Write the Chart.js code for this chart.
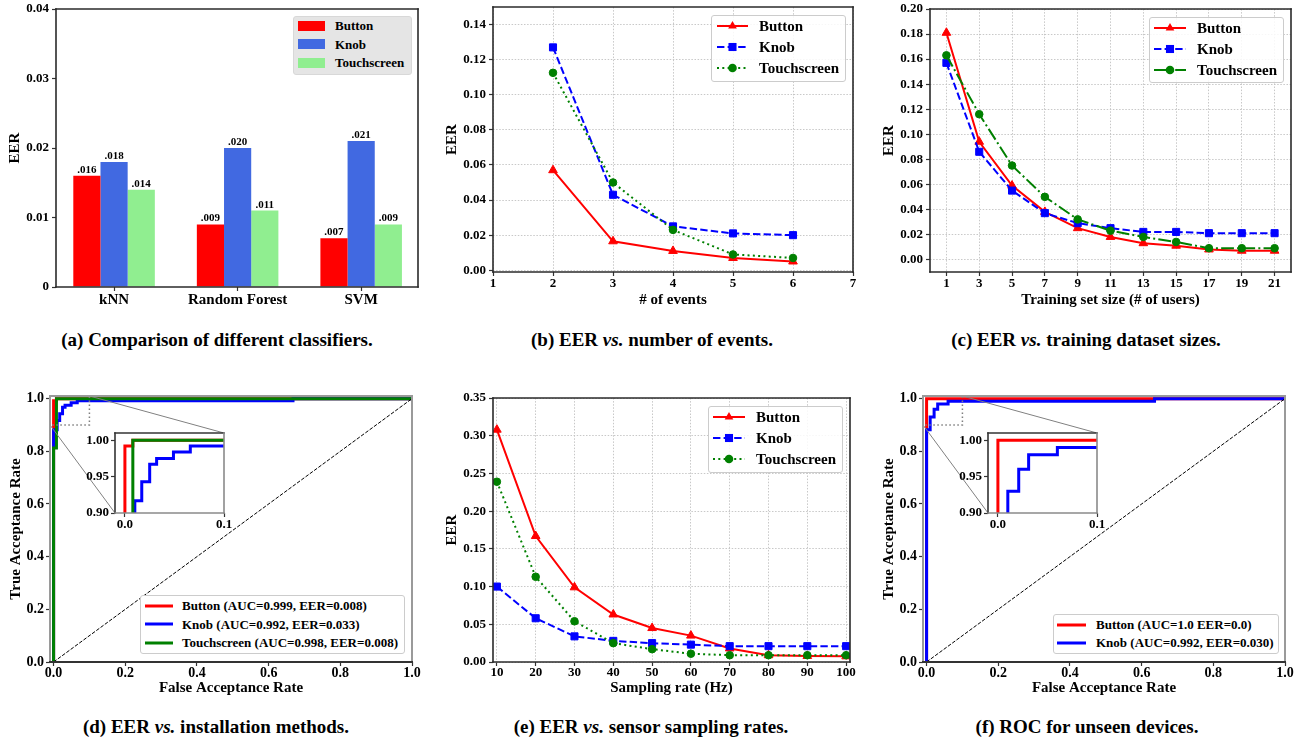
<!DOCTYPE html>
<html>
<head>
<meta charset="utf-8">
<script src="https://cdn.jsdelivr.net/npm/chart.js@4.4.1/dist/chart.umd.min.js"></script>
<style>
html,body{margin:0;padding:0;background:#ffffff;}
body{position:relative;width:1302px;height:744px;overflow:hidden;font-family:'Liberation Serif','Times New Roman',serif;}
canvas{position:absolute;}
.cap{position:absolute;font-weight:bold;font-size:19px;line-height:23px;white-space:nowrap;transform:translate(-50%,-50%);color:#000;}
.leg{position:absolute;box-sizing:border-box;z-index:5;}
.lt{position:absolute;font-weight:bold;white-space:nowrap;color:#000;z-index:6;}
</style>
</head>
<body>
<div class="cap" style="left:217px;top:339px">(a) Comparison of different classifiers.</div>
<div class="cap" style="left:652px;top:339px">(b) EER <i>vs.</i> number of events.</div>
<div class="cap" style="left:1086px;top:339px">(c) EER <i>vs.</i> training dataset sizes.</div>
<div class="cap" style="left:216px;top:726px">(d) EER <i>vs.</i> installation methods.</div>
<div class="cap" style="left:651px;top:726px">(e) EER <i>vs.</i> sensor sampling rates.</div>
<div class="cap" style="left:1087px;top:726px">(f) ROC for unseen devices.</div>
<script>
// ================= DATA =================
const seriesNames = ['Button', 'Knob', 'Touchscreen'];

// (a) classifiers
const classifierNames = ['kNN', 'Random Forest', 'SVM'];
const classifierPos = [0, 1, 2];
const classifierButton = [0.016, 0.009, 0.007];
const classifierKnob = [0.018, 0.020, 0.021];
const classifierTouch = [0.014, 0.011, 0.009];
const classifierYTicks = [0, 0.01, 0.02, 0.03, 0.04];
const classifierYLabels = ['0', '0.01', '0.02', '0.03', '0.04'];

// (b) number of events
const eventsX = [2, 3, 4, 5, 6];
const eventsButton = [0.057, 0.0165, 0.011, 0.007, 0.005];
const eventsKnob = [0.127, 0.043, 0.025, 0.021, 0.020];
const eventsTouch = [0.1125, 0.050, 0.023, 0.009, 0.007];
const eventsXTicks = [1, 2, 3, 4, 5, 6, 7];
const eventsXLabels = ['1', '2', '3', '4', '5', '6', '7'];
const eventsYTicks = [0, 0.02, 0.04, 0.06, 0.08, 0.10, 0.12, 0.14];
const eventsYLabels = ['0.00', '0.02', '0.04', '0.06', '0.08', '0.10', '0.12', '0.14'];

// (c) training set size
const usersX = [1, 3, 5, 7, 9, 11, 13, 15, 17, 19, 21];
const usersButton = [0.181, 0.094, 0.059, 0.038, 0.025, 0.018, 0.013, 0.011, 0.008, 0.007, 0.007];
const usersKnob = [0.157, 0.086, 0.055, 0.037, 0.029, 0.025, 0.022, 0.022, 0.021, 0.021, 0.021];
const usersTouch = [0.163, 0.116, 0.075, 0.050, 0.032, 0.023, 0.018, 0.014, 0.009, 0.009, 0.009];
const usersXLabels = ['1', '3', '5', '7', '9', '11', '13', '15', '17', '19', '21'];
const usersYTicks = [0, 0.02, 0.04, 0.06, 0.08, 0.10, 0.12, 0.14, 0.16, 0.18, 0.20];
const usersYLabels = ['0.00', '0.02', '0.04', '0.06', '0.08', '0.10', '0.12', '0.14', '0.16', '0.18', '0.20'];

// (e) sampling rate
const rateX = [10, 20, 30, 40, 50, 60, 70, 80, 90, 100];
const rateButton = [0.308, 0.167, 0.099, 0.063, 0.045, 0.035, 0.018, 0.009, 0.008, 0.0075];
const rateKnob = [0.100, 0.058, 0.034, 0.028, 0.025, 0.023, 0.021, 0.021, 0.021, 0.021];
const rateTouch = [0.239, 0.113, 0.054, 0.025, 0.017, 0.011, 0.009, 0.009, 0.009, 0.009];
const rateXLabels = ['10', '20', '30', '40', '50', '60', '70', '80', '90', '100'];
const rateYTicks = [0, 0.05, 0.10, 0.15, 0.20, 0.25, 0.30, 0.35];
const rateYLabels = ['0.00', '0.05', '0.10', '0.15', '0.20', '0.25', '0.30', '0.35'];

// (d) ROC installation methods
const installButtonFar = [0, 0, 0.008, 0.008, 1];
const installButtonTar = [0, 0.992, 0.992, 1, 1];
const installKnobFar = [0, 0, 0.010, 0.010, 0.017, 0.017, 0.025, 0.025, 0.032, 0.032, 0.049, 0.049, 0.066, 0.066, 0.668, 0.668, 1];
const installKnobTar = [0, 0.882, 0.882, 0.917, 0.917, 0.943, 0.943, 0.967, 0.967, 0.975, 0.975, 0.984, 0.984, 0.992, 0.992, 1, 1];
const installTouchFar = [0, 0, 0.008, 0.008, 1];
const installTouchTar = [0, 0.813, 0.813, 1, 1];
const installLegend = ['Button (AUC=0.999, EER=0.008)', 'Knob (AUC=0.992, EER=0.033)', 'Touchscreen (AUC=0.998, EER=0.008)'];

// (f) ROC unseen devices
const unseenButtonFar = [0, 0, 1];
const unseenButtonTar = [0, 1, 1];
const unseenKnobFar = [0, 0, 0.010, 0.010, 0.021, 0.021, 0.031, 0.031, 0.060, 0.060, 0.636, 0.636, 1];
const unseenKnobTar = [0, 0.882, 0.882, 0.93, 0.93, 0.96, 0.96, 0.98, 0.98, 0.99, 0.99, 1, 1];
const unseenLegend = ['Button (AUC=1.0 EER=0.0)', 'Knob (AUC=0.992, EER=0.030)'];

const chanceFar = [0, 1];
const chanceTar = [0, 1];
const rocTicks = [0, 0.2, 0.4, 0.6, 0.8, 1.0];
const rocLabels = ['0.0', '0.2', '0.4', '0.6', '0.8', '1.0'];
const zoomXTicks = [0, 0.1];
const zoomXLabels = ['0.0', '0.1'];
const zoomYTicks = [0.90, 0.95, 1.00];
const zoomYLabels = ['0.90', '0.95', '1.00'];
const zoomXRange = [-0.01, 0.1];
const zoomYRange = [0.9, 1.01];

// ================= LAYOUT / STYLE =================
const SERIF = "'Liberation Serif','Times New Roman',Times,serif";
Chart.defaults.font.family = SERIF;
Chart.defaults.font.weight = 'bold';
Chart.defaults.color = '#000';

const RED = '#ff0000', BLUE = '#0000ff', GREEN = '#008000';
const DASH = [7.4, 3.2], DOT = [2, 3.3], DASHDOT = [12.8, 3.2, 2, 3.2];

const BOX = {
  a: {x: 0, y: 0, w: 434, h: 330}, b: {x: 434, y: 0, w: 434, h: 330}, c: {x: 868, y: 0, w: 434, h: 330},
  d: {x: 0, y: 380, w: 434, h: 320}, e: {x: 434, y: 380, w: 434, h: 320}, f: {x: 868, y: 380, w: 434, h: 320},
  di: {x: 62, y: 420, w: 180, h: 122}, fi: {x: 935, y: 420, w: 180, h: 122}
};
const PLOT = {
  a: {l: 56, r: 418, t: 9, b: 287}, b: {l: 493, r: 853, t: 7, b: 272}, c: {l: 930, r: 1291, t: 9, b: 272},
  d: {l: 50, r: 412, t: 396, b: 662}, e: {l: 493, r: 850, t: 398, b: 662}, f: {l: 923, r: 1285, t: 396, b: 662},
  di: {l: 115, r: 224, t: 433, b: 513}, fi: {l: 988, r: 1097, t: 433, b: 513}
};

function fnt(size, style) { return {family: SERIF, size: size, weight: 'bold', style: style || 'normal', lineHeight: 1.2}; }

function addCanvas(box, z) {
  const c = document.createElement('canvas');
  c.width = box.w; c.height = box.h;
  c.style.left = box.x + 'px'; c.style.top = box.y + 'px';
  c.style.width = box.w + 'px'; c.style.height = box.h + 'px';
  c.style.zIndex = z || 1;
  document.body.appendChild(c);
  return c;
}

function linAxis(o) {
  const horiz = o.pos === 'bottom';
  return {
    type: 'linear', position: o.pos, min: o.min, max: o.max, offset: false,
    afterBuildTicks: s => { s.ticks = o.ticks.map(v => ({value: v})); },
    afterFit: s => {
      if (horiz) s.height = o.size; else s.width = o.size;
      s.paddingLeft = 0; s.paddingRight = 0; s.paddingTop = 0; s.paddingBottom = 0;
    },
    ticks: {autoSkip: false, maxRotation: 0, minRotation: 0, padding: o.tickPad, color: '#000',
      font: fnt(o.tickSize), callback: (v, i) => o.labels[i]},
    grid: {display: true, drawOnChartArea: !!o.grid, drawTicks: true, tickLength: o.tickLen || 4, tickWidth: 1.2,
      tickColor: '#333', color: '#c2c2c2', lineWidth: 0.9, offset: false},
    border: {display: false, dash: o.grid ? [1.5, 1.6] : []},
    title: {display: !!o.title, text: o.title, color: '#000', font: fnt(o.titleSize || 15),
      padding: horiz ? {top: 0, bottom: o.titlePad || 0} : {top: o.titlePad || 0, bottom: 0}}
  };
}

const framePlugin = {
  id: 'frame',
  beforeDraw(chart, args, o) {
    if (!o || !o.fill) return;
    const a = chart.chartArea, g = chart.ctx;
    g.save(); g.fillStyle = o.fill; g.fillRect(a.left, a.top, a.right - a.left, a.bottom - a.top); g.restore();
  },
  afterDatasetsDraw(chart, args, o) {
    if (!o || !o.width) return;
    const a = chart.chartArea, g = chart.ctx;
    g.save(); g.lineWidth = o.width; g.setLineDash([]); g.lineCap = 'square';
    const seg = (x1, y1, x2, y2, c) => { g.strokeStyle = c; g.beginPath(); g.moveTo(x1, y1); g.lineTo(x2, y2); g.stroke(); };
    seg(a.left, a.top, a.right, a.top, o.top);
    seg(a.right, a.top, a.right, a.bottom, o.right);
    seg(a.left, a.top, a.left, a.bottom, o.left);
    seg(a.left, a.bottom, a.right, a.bottom, o.bottom);
    g.restore();
  }
};

const barLabelPlugin = {
  id: 'barLabels',
  afterDatasetsDraw(chart) {
    const g = chart.ctx;
    g.save(); g.font = 'bold 11px ' + SERIF; g.textAlign = 'center'; g.textBaseline = 'alphabetic'; g.fillStyle = '#000';
    chart.data.datasets.forEach((ds, di) => {
      chart.getDatasetMeta(di).data.forEach((bar, i) => {
        g.fillText(ds.data[i].y.toFixed(3).slice(1), bar.x, bar.y - 3);
      });
    });
    g.restore();
  }
};

const insetMarkPlugin = {
  id: 'insetMark',
  afterDatasetsDraw(chart, args, o) {
    if (!o || !o.inset) return;
    const xs = chart.scales.x, ys = chart.scales.y, g = chart.ctx;
    const x0 = xs.getPixelForValue(zoomXRange[0]), x1 = xs.getPixelForValue(zoomXRange[1]);
    const y0 = ys.getPixelForValue(zoomYRange[0]), y1 = ys.getPixelForValue(zoomYRange[1]);
    g.save();
    g.strokeStyle = '#7f7f7f'; g.lineWidth = 1.5; g.setLineDash([1.5, 2.5]);
    g.strokeRect(x0, y1, x1 - x0, y0 - y1);
    g.setLineDash([]); g.lineWidth = 1; g.strokeStyle = '#808080';
    const ins = o.inset;
    g.beginPath(); g.moveTo(x1, y1); g.lineTo(ins.r, ins.t); g.stroke();
    g.beginPath(); g.moveTo(x0, y0); g.lineTo(ins.l, ins.b); g.stroke();
    g.restore();
  }
};

function pts(xs, ys) { return xs.map((x, i) => ({x: x, y: ys[i]})); }

function lineDS(xs, ys, color, dash, marker, r, lw) {
  return {data: pts(xs, ys), borderColor: color, backgroundColor: color, borderWidth: lw, borderDash: dash || [],
    tension: 0, fill: false, pointStyle: marker || 'circle', pointRadius: marker ? r : 0, pointHoverRadius: 0,
    pointBackgroundColor: color, pointBorderColor: color, pointBorderWidth: 1};
}

function build(key, cfg) {
  const box = BOX[key], plot = PLOT[key];
  const c = addCanvas(box, cfg.z || 1);
  const xo = Object.assign({pos: 'bottom', size: box.y + box.h - plot.b}, cfg.x);
  const yo = Object.assign({pos: 'left', size: plot.l - box.x}, cfg.y);
  const plugins = Object.assign({legend: {display: false}, tooltip: {enabled: false}, title: {display: false}}, cfg.pluginOpts || {});
  return new Chart(c, {
    type: cfg.type || 'line',
    data: {datasets: cfg.datasets},
    options: {
      responsive: false, animation: false, events: [],
      layout: {padding: {left: 0, bottom: 0, top: plot.t - box.y, right: box.x + box.w - plot.r}},
      plugins: plugins,
      scales: {x: linAxis(xo), y: linAxis(yo)}
    },
    plugins: cfg.plugins || []
  });
}

const darkFrame = {width: 1.6, top: '#2a2a2a', right: '#2a2a2a', left: '#2a2a2a', bottom: '#2a2a2a'};
const rocFrame = {width: 2, top: '#9a9a9a', right: '#9a9a9a', left: '#9a9a9a', bottom: '#333333'};
const insetFrame = {width: 1.6, top: '#333', right: '#8a8a8a', left: '#333', bottom: '#8a8a8a', fill: '#ffffff'};

// (a)
build('a', {
  type: 'bar',
  datasets: [
    {data: pts(classifierPos, classifierButton), backgroundColor: '#ff0000', borderWidth: 0, categoryPercentage: 0.66, barPercentage: 1.0},
    {data: pts(classifierPos, classifierKnob), backgroundColor: '#4169e1', borderWidth: 0, categoryPercentage: 0.66, barPercentage: 1.0},
    {data: pts(classifierPos, classifierTouch), backgroundColor: '#90ee90', borderWidth: 0, categoryPercentage: 0.66, barPercentage: 1.0}
  ],
  x: {min: -0.47, max: 2.46, ticks: classifierPos, labels: classifierNames, tickSize: 15, tickPad: 0},
  y: {min: 0, max: 0.04, ticks: classifierYTicks, labels: classifierYLabels, tickSize: 13, tickPad: 3, title: 'EER', titlePad: 6},
  pluginOpts: {frame: darkFrame},
  plugins: [barLabelPlugin, framePlugin]
});

// (b)
build('b', {
  datasets: [
    lineDS(eventsX, eventsTouch, GREEN, DOT, 'circle', 3.8, 2),
    lineDS(eventsX, eventsKnob, BLUE, DASH, 'rect', 5, 2),
    lineDS(eventsX, eventsButton, RED, [], 'triangle', 5, 2)
  ],
  x: {min: 1, max: 7, ticks: eventsXTicks, labels: eventsXLabels, tickSize: 13, tickPad: 0, grid: true, title: '# of events', titlePad: 21},
  y: {min: -0.001, max: 0.15, ticks: eventsYTicks, labels: eventsYLabels, tickSize: 13, tickPad: 3, grid: true, title: 'EER', titlePad: 9},
  pluginOpts: {frame: darkFrame},
  plugins: [framePlugin]
});

// (c)
build('c', {
  datasets: [
    lineDS(usersX, usersTouch, GREEN, DASHDOT, 'circle', 3.8, 2),
    lineDS(usersX, usersKnob, BLUE, DASH, 'rect', 5, 2),
    lineDS(usersX, usersButton, RED, [], 'triangle', 5, 2)
  ],
  x: {min: 0, max: 22, ticks: usersX, labels: usersXLabels, tickSize: 13, tickPad: 0, grid: true, title: 'Training set size (# of users)', titlePad: 21},
  y: {min: -0.01, max: 0.20, ticks: usersYTicks, labels: usersYLabels, tickSize: 13, tickPad: 3, grid: true, title: 'EER', titlePad: 11.7},
  pluginOpts: {frame: darkFrame},
  plugins: [framePlugin]
});

// (e)
build('e', {
  datasets: [
    lineDS(rateX, rateTouch, GREEN, DOT, 'circle', 3.8, 2),
    lineDS(rateX, rateKnob, BLUE, DASH, 'rect', 5, 2),
    lineDS(rateX, rateButton, RED, [], 'triangle', 5, 2)
  ],
  x: {min: 9, max: 101, ticks: rateX, labels: rateXLabels, tickSize: 13, tickPad: -1, grid: true, title: 'Sampling rate (Hz)', titlePad: 3},
  y: {min: 0, max: 0.35, ticks: rateYTicks, labels: rateYLabels, tickSize: 13, tickPad: 3, grid: true, title: 'EER', titlePad: 9},
  pluginOpts: {frame: darkFrame},
  plugins: [framePlugin]
});

function rel(key, host) {
  const p = PLOT[key], b = BOX[host];
  return {l: p.l - b.x, r: p.r - b.x, t: p.t - b.y, b: p.b - b.y};
}

// (d)
build('d', {
  datasets: [
    lineDS(chanceFar, chanceTar, '#000', [3.7, 1.6], null, 0, 1),
    lineDS(installTouchFar, installTouchTar, GREEN, [], null, 0, 3),
    lineDS(installKnobFar, installKnobTar, BLUE, [], null, 0, 3),
    lineDS(installButtonFar, installButtonTar, RED, [], null, 0, 3)
  ],
  x: {min: -0.01, max: 1.0, ticks: rocTicks, labels: rocLabels, tickSize: 14, tickPad: -1, tickLen: 4, title: 'False Acceptance Rate', titlePad: 3},
  y: {min: 0, max: 1.01, ticks: rocTicks, labels: rocLabels, tickSize: 14, tickPad: 2, tickLen: 4, title: 'True Acceptance Rate', titlePad: 7},
  pluginOpts: {frame: rocFrame, insetMark: {inset: rel('di', 'd')}},
  plugins: [insetMarkPlugin, framePlugin]
});
build('di', {
  z: 2,
  datasets: [
    lineDS(installTouchFar, installTouchTar, GREEN, [], null, 0, 3),
    lineDS(installKnobFar, installKnobTar, BLUE, [], null, 0, 3),
    lineDS(installButtonFar, installButtonTar, RED, [], null, 0, 3)
  ],
  x: {min: zoomXRange[0], max: zoomXRange[1], ticks: zoomXTicks, labels: zoomXLabels, tickSize: 13, tickPad: 0},
  y: {min: zoomYRange[0], max: zoomYRange[1], ticks: zoomYTicks, labels: zoomYLabels, tickSize: 13, tickPad: 2},
  pluginOpts: {frame: insetFrame},
  plugins: [framePlugin]
});

// (f)
build('f', {
  datasets: [
    lineDS(chanceFar, chanceTar, '#000', [3.7, 1.6], null, 0, 1),
    lineDS(unseenKnobFar, unseenKnobTar, BLUE, [], null, 0, 3),
    lineDS(unseenButtonFar, unseenButtonTar, RED, [], null, 0, 3)
  ],
  x: {min: -0.01, max: 1.0, ticks: rocTicks, labels: rocLabels, tickSize: 14, tickPad: -1, tickLen: 4, title: 'False Acceptance Rate', titlePad: 3},
  y: {min: 0, max: 1.01, ticks: rocTicks, labels: rocLabels, tickSize: 14, tickPad: 2, tickLen: 4, title: 'True Acceptance Rate', titlePad: 11.7},
  pluginOpts: {frame: rocFrame, insetMark: {inset: rel('fi', 'f')}},
  plugins: [insetMarkPlugin, framePlugin]
});
build('fi', {
  z: 2,
  datasets: [
    lineDS(unseenKnobFar, unseenKnobTar, BLUE, [], null, 0, 3),
    lineDS(unseenButtonFar, unseenButtonTar, RED, [], null, 0, 3)
  ],
  x: {min: zoomXRange[0], max: zoomXRange[1], ticks: zoomXTicks, labels: zoomXLabels, tickSize: 13, tickPad: 0},
  y: {min: zoomYRange[0], max: zoomYRange[1], ticks: zoomYTicks, labels: zoomYLabels, tickSize: 13, tickPad: 2},
  pluginOpts: {frame: insetFrame},
  plugins: [framePlugin]
});

// ================= LEGENDS (HTML) =================
function drawMarker(g, kind, x, y, r, color) {
  g.fillStyle = color; g.beginPath();
  if (kind === 'triangle') {
    g.moveTo(x, y - r); g.lineTo(x + r * 0.866, y + r * 0.5); g.lineTo(x - r * 0.866, y + r * 0.5); g.closePath();
  } else if (kind === 'rect') {
    const s = r * 0.7071 + 0.5; g.rect(x - s, y - s, 2 * s, 2 * s);
  } else {
    g.arc(x, y, r + 0.5, 0, 2 * Math.PI);
  }
  g.fill();
}

function htmlLegend(spec) {
  const d = document.createElement('div');
  d.className = 'leg';
  Object.assign(d.style, {left: spec.box.x + 'px', top: spec.box.y + 'px', width: spec.box.w + 'px', height: spec.box.h + 'px',
    background: spec.bg, border: '1px solid ' + spec.border, borderRadius: '3px'});
  document.body.appendChild(d);
  spec.rows.forEach(r => {
    const w = spec.sx1 - spec.sx0 + 12, h = 16;
    const c = document.createElement('canvas');
    c.width = w; c.height = h;
    Object.assign(c.style, {left: (spec.sx0 - 6) + 'px', top: (r.y - 8) + 'px', width: w + 'px', height: h + 'px', zIndex: 6});
    const g = c.getContext('2d');
    if (r.patch) {
      g.fillStyle = r.color; g.fillRect(6, 8 - r.patch / 2, spec.sx1 - spec.sx0, r.patch);
    } else {
      g.strokeStyle = r.color; g.lineWidth = r.lw; g.setLineDash(r.dash || []);
      g.beginPath(); g.moveTo(6, 8); g.lineTo(w - 6, 8); g.stroke(); g.setLineDash([]);
      if (r.marker) drawMarker(g, r.marker, w / 2, 8, r.ms, r.color);
    }
    document.body.appendChild(c);
    const t = document.createElement('div');
    t.className = 'lt'; t.textContent = r.label;
    Object.assign(t.style, {left: spec.tx + 'px', top: (r.y - spec.fs * 0.6) + 'px', fontSize: spec.fs + 'px', lineHeight: (spec.fs * 1.2) + 'px'});
    document.body.appendChild(t);
  });
}

htmlLegend({box: {x: 293, y: 16, w: 119, h: 59}, bg: '#e5e5e5', border: '#d8d8d8', fs: 13, sx0: 298, sx1: 325, tx: 335,
  rows: [{y: 25.7, label: seriesNames[0], color: '#ff0000', patch: 10}, {y: 44.3, label: seriesNames[1], color: '#4169e1', patch: 10},
         {y: 63, label: seriesNames[2], color: '#90ee90', patch: 10}]});

function lineRows(ys) {
  return [
    {y: ys[0], label: seriesNames[0], color: RED, lw: 2, dash: [], marker: 'triangle', ms: 5},
    {y: ys[1], label: seriesNames[1], color: BLUE, lw: 2, dash: DASH, marker: 'rect', ms: 5},
    {y: ys[2], label: seriesNames[2], color: GREEN, lw: 2, dash: ys[3] || DOT, marker: 'circle', ms: 3.8}
  ];
}
htmlLegend({box: {x: 711, y: 15, w: 135, h: 67}, bg: 'rgba(255,255,255,0.85)', border: '#cccccc', fs: 15, sx0: 717, sx1: 748, tx: 759,
  rows: lineRows([26.3, 47.3, 68.3])});
htmlLegend({box: {x: 1149, y: 17, w: 135, h: 66}, bg: 'rgba(255,255,255,0.85)', border: '#cccccc', fs: 15, sx0: 1154, sx1: 1186, tx: 1197,
  rows: lineRows([28.3, 49.3, 70.3, DASHDOT])});
htmlLegend({box: {x: 708, y: 406, w: 135, h: 67}, bg: 'rgba(255,255,255,0.85)', border: '#cccccc', fs: 15, sx0: 713, sx1: 745, tx: 756,
  rows: lineRows([417.3, 438.3, 459.3])});
htmlLegend({box: {x: 140, y: 595, w: 265, h: 59}, bg: '#ffffff', border: '#cccccc', fs: 13, sx0: 145, sx1: 173, tx: 182,
  rows: [{y: 606, label: installLegend[0], color: RED, lw: 3}, {y: 624.3, label: installLegend[1], color: BLUE, lw: 3},
         {y: 643, label: installLegend[2], color: GREEN, lw: 3}]});
htmlLegend({box: {x: 1053, y: 614, w: 226, h: 40}, bg: '#ffffff', border: '#cccccc', fs: 13, sx0: 1057, sx1: 1086, tx: 1096,
  rows: [{y: 625, label: unseenLegend[0], color: RED, lw: 3}, {y: 643, label: unseenLegend[1], color: BLUE, lw: 3}]});
</script>
</body>
</html>
